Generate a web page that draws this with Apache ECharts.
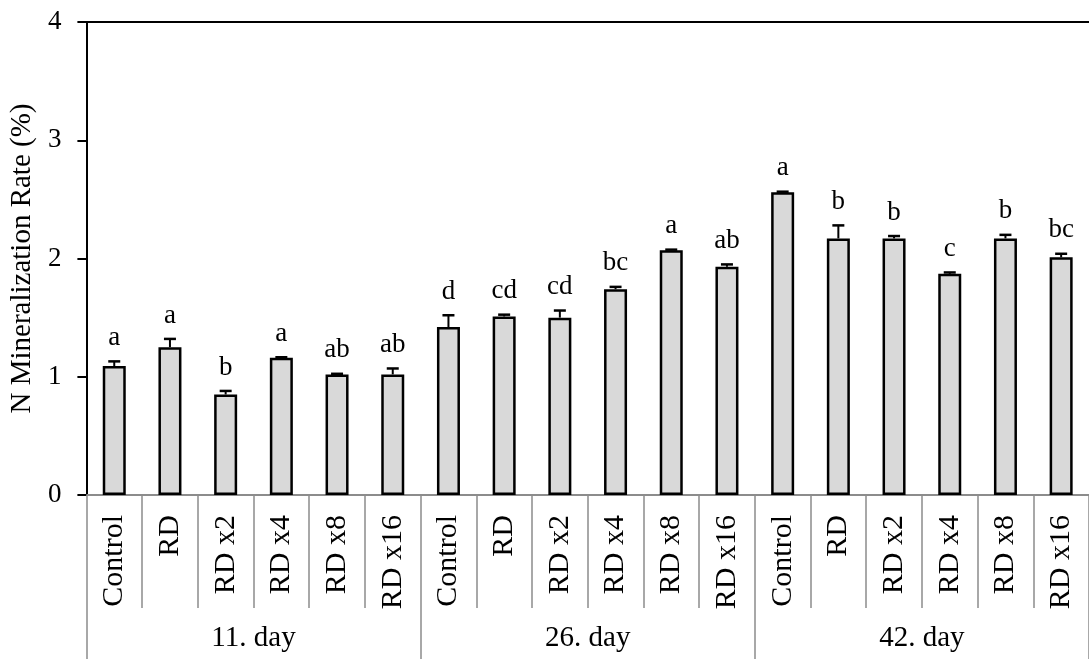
<!DOCTYPE html>
<html>
<head>
<meta charset="utf-8">
<script src="https://cdn.jsdelivr.net/npm/echarts@6/dist/echarts.min.js"></script>
<style>
  html, body { margin: 0; padding: 0; background: #fff; }
  #main { width: 1089px; height: 659px; }
</style>
</head>
<body>
<div id="main"></div>
<script>
var FONT = "'Liberation Serif', 'Times New Roman', serif"

// treatments on x axis, 3 sampling days
var treatments = ['Control', 'RD', 'RD x2', 'RD x4', 'RD x8', 'RD x16']
var days = ['11. day', '26. day', '42. day']
var categories = []
days.forEach(function () { treatments.forEach(function (t) { categories.push(t) }) })

// mean N mineralization rate (%) and upper error
var means = [1.09, 1.25, 0.85, 1.16, 1.02, 1.02,
             1.42, 1.51, 1.50, 1.74, 2.07, 1.93,
             2.56, 2.17, 2.17, 1.87, 2.17, 2.01]
var errors = [0.04, 0.07, 0.03, 0.005, 0.005, 0.05,
              0.10, 0.015, 0.06, 0.02, 0.005, 0.02,
              0.005, 0.11, 0.02, 0.012, 0.03, 0.03]
// significance letters
var letters = ['a', 'a', 'b', 'a', 'ab', 'ab',
               'd', 'cd', 'cd', 'bc', 'a', 'ab',
               'a', 'b', 'b', 'c', 'b', 'bc']
var yTicks = [0, 1, 2, 3, 4]

var chart = echarts.init(document.getElementById('main'))

var errData = means.map(function (m, i) { return [i, m, errors[i]] })

var option = {
  animation: false,
  grid: { left: 86, right: 0, top: 22, bottom: 164 },
  xAxis: [
    {
      type: 'category',
      data: categories,
      position: 'bottom',
      axisLine: { show: true, lineStyle: { color: '#8c8c8c', width: 2 } },
      axisTick: { show: true, interval: 0, length: 113, lineStyle: { color: '#8c8c8c', width: 1.5 } },
      axisLabel: { interval: 0, rotate: 90, margin: 20, fontSize: 30, color: '#000', fontFamily: FONT }
    },
    {
      type: 'category',
      data: days,
      position: 'bottom',
      axisLine: { show: false },
      axisTick: { show: true, interval: 0, length: 170, lineStyle: { color: '#8c8c8c', width: 1.5 } },
      axisLabel: { interval: 0, margin: 129, fontSize: 29, color: '#000', fontFamily: FONT }
    },
    {
      type: 'category',
      data: days,
      position: 'top',
      axisLine: { show: true, lineStyle: { color: '#000', width: 2 } },
      axisTick: { show: false },
      axisLabel: { show: false }
    }
  ],
  yAxis: {
    type: 'value',
    min: yTicks[0],
    max: yTicks[yTicks.length - 1],
    interval: 1,
    name: 'N Mineralization Rate (%)',
    nameLocation: 'middle',
    nameRotate: 90,
    nameGap: 46,
    nameTextStyle: { fontSize: 29, color: '#000', fontFamily: FONT },
    axisLine: { show: true, lineStyle: { color: '#000', width: 2 } },
    axisTick: { show: true, length: 9, lineStyle: { color: '#000', width: 2 } },
    axisLabel: { fontSize: 27, color: '#000', fontFamily: FONT, margin: 25 },
    splitLine: { show: false }
  },
  series: [
    {
      type: 'bar',
      data: means,
      barWidth: 23,
      itemStyle: { color: '#d9d9d9', borderColor: '#000', borderWidth: 2.5 }
    },
    {
      type: 'custom',
      data: errData,
      z: 5,
      renderItem: function (params, api) {
        var i = api.value(0)
        var top = api.coord([i, api.value(1)])
        var hi = api.coord([i, api.value(1) + api.value(2)])
        var x = top[0]
        return {
          type: 'group',
          children: [
            { type: 'line', shape: { x1: x, y1: top[1], x2: x, y2: hi[1] },
              style: { stroke: '#000', lineWidth: 2 } },
            { type: 'line', shape: { x1: x - 6, y1: hi[1], x2: x + 6, y2: hi[1] },
              style: { stroke: '#000', lineWidth: 2.5 } },
            { type: 'text', x: x, y: hi[1] - 10,
              style: { text: letters[params.dataIndex], fill: '#000', fontSize: 27,
                       fontFamily: FONT, align: 'center', verticalAlign: 'bottom' } }
          ]
        }
      }
    }
  ]
}

chart.setOption(option)
</script>
</body>
</html>
